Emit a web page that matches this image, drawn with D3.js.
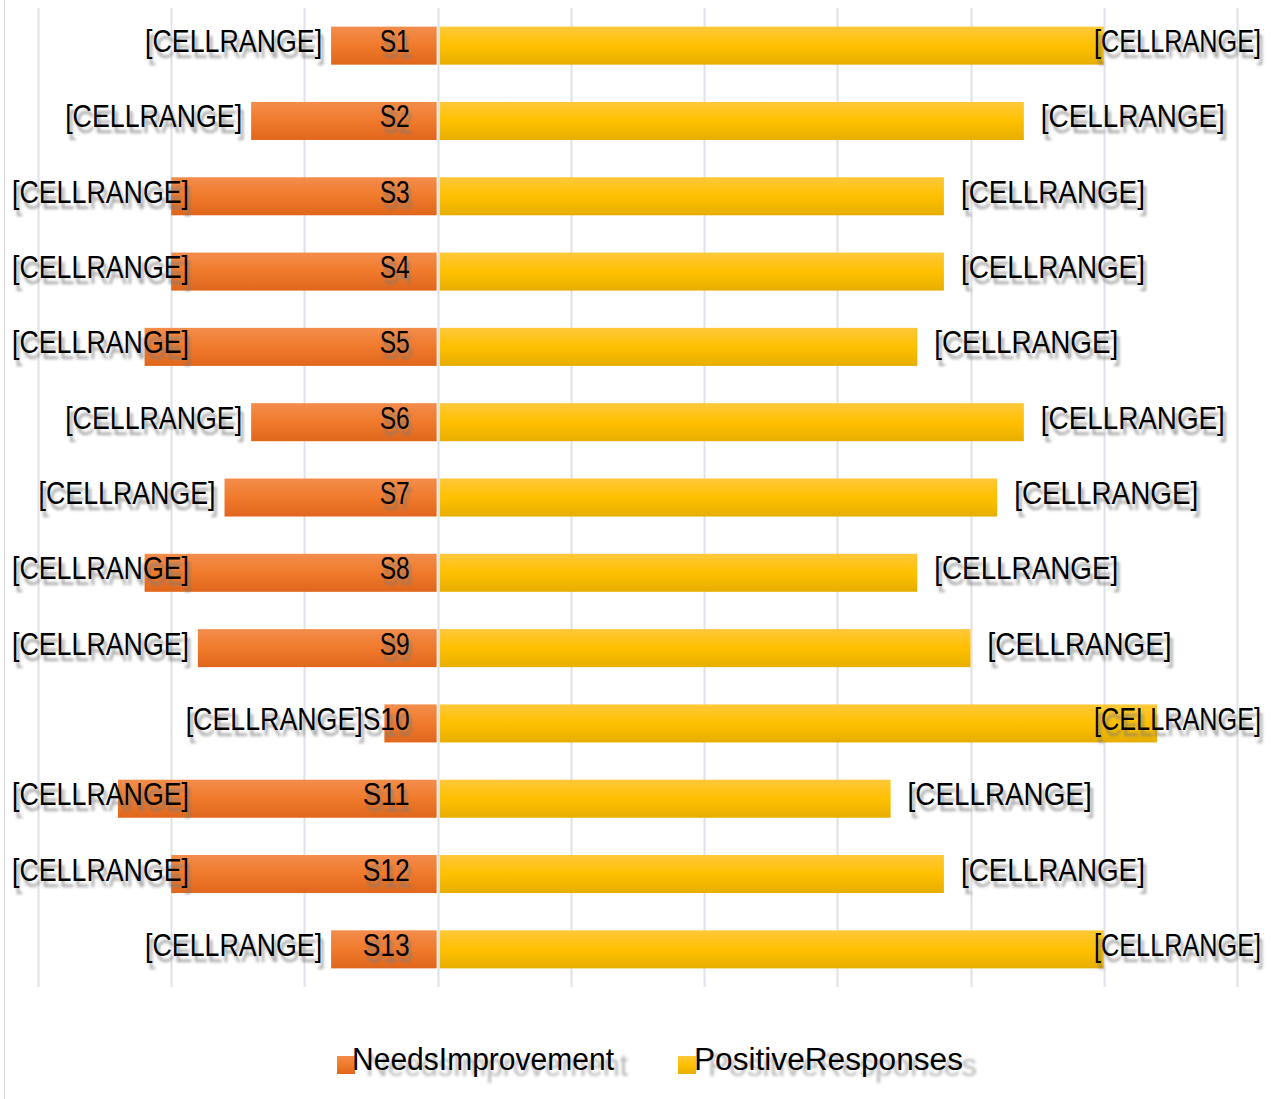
<!DOCTYPE html>
<html><head><meta charset="utf-8">
<script src="https://cdn.jsdelivr.net/npm/d3@7"></script>
<style>html,body{margin:0;padding:0;background:#fff;}svg{display:block;}</style>
</head><body>
<script>
const categories = ["S1","S2","S3","S4","S5","S6","S7","S8","S9","S10","S11","S12","S13"];
const needsImprovement = [8,14,20,20,22,14,16,22,18,4,24,20,8];
const positiveResponses = [50,44,38,38,36,44,42,36,40,54,34,38,50];
const labelText = "[CELLRANGE]";
const seriesNames = ["NeedsImprovement","PositiveResponses"];
const xTicks = [-30,-20,-10,0,10,20,30,40,50,60];

const W = 1271, H = 1099;
const FONT = "'Liberation Sans', Arial, sans-serif";
const svg = d3.select("body").append("svg").attr("width", W).attr("height", H);
const defs = svg.append("defs");
const gO = defs.append("linearGradient").attr("id","gO").attr("x1",0).attr("y1",0).attr("x2",0).attr("y2",1);
gO.append("stop").attr("offset","0%").attr("stop-color","#F38D4C");
gO.append("stop").attr("offset","50%").attr("stop-color","#F07A2C");
gO.append("stop").attr("offset","100%").attr("stop-color","#E0661C");
const gY = defs.append("linearGradient").attr("id","gY").attr("x1",0).attr("y1",0).attr("x2",0).attr("y2",1);
gY.append("stop").attr("offset","0%").attr("stop-color","#FFC83A");
gY.append("stop").attr("offset","50%").attr("stop-color","#FFC000");
gY.append("stop").attr("offset","100%").attr("stop-color","#E6AE00");
const blur = defs.append("filter").attr("id","blur").attr("x","-10%").attr("y","-30%").attr("width","120%").attr("height","160%");
blur.append("feGaussianBlur").attr("stdDeviation",1.5);

svg.append("line").attr("x1",4.5).attr("x2",4.5).attr("y1",0).attr("y2",H).attr("stroke","#d9d9d9").attr("stroke-width",1);

const x = d3.scaleLinear().domain([-30,60]).range([38,1237]);
const y = d3.scaleBand().domain(categories).range([8,987]).paddingInner(0.495).paddingOuter(0.2475);

svg.append("g").selectAll("line").data(xTicks).join("line")
  .attr("x1", d => Math.round(x(d))+0.5).attr("x2", d => Math.round(x(d))+0.5)
  .attr("y1", 8).attr("y2", 987).attr("stroke","#dde1e8").attr("stroke-width",2);

const bars = svg.append("g");
categories.forEach((c,i) => {
  bars.append("rect").attr("x", x(-needsImprovement[i])).attr("y", y(c))
    .attr("width", x(0)-1 - x(-needsImprovement[i])).attr("height", y.bandwidth()).attr("fill","url(#gO)");
  bars.append("rect").attr("x", x(0)+2).attr("y", y(c))
    .attr("width", x(positiveResponses[i]) - x(0) - 2).attr("height", y.bandwidth()).attr("fill","url(#gY)");
});

const FS = 31;
function label(g, txt, px, py, len) {
  const grp = g.append("g").attr("transform", `translate(${px},${py})`);
  [["#7a7a7a",0.7,3,6,true],["#000",1,0,0,false]].forEach(([col,op,dx,dy,sh]) => {
    const t = grp.append("text").attr("x", dx).attr("y", dy)
      .attr("font-family",FONT).attr("font-size", FS).attr("fill",col).attr("opacity",op)
      .attr("textLength", len).attr("lengthAdjust","spacingAndGlyphs").text(txt);
    if (sh) t.attr("filter","url(#blur)");
  });
  return grp;
}

const labels = svg.append("g");
const LW = 177, RW = 184, CW = 167, RIGHT_EDGE = 1261;

categories.forEach((c,i) => {
  const base = y(c) + y.bandwidth()/2 + 6.5;
  const catRight = x(0) - 28;
  const catW = c.length === 2 ? 30 : 47;
  label(labels, c, catRight - catW, base, catW);
  const right = Math.min(x(-needsImprovement[i]) - 9, catRight - catW);
  const left = Math.max(right - LW, 12);
  label(labels, labelText, left, base, LW);
  let pl = x(positiveResponses[i]) + 17, w = RW;
  if (pl + RW > RIGHT_EDGE) { w = CW; pl = RIGHT_EDGE - CW; }
  label(labels, labelText, pl, base, w);
});

const leg = svg.append("g");
const legItems = [{name: seriesNames[0], fill: "url(#gO)", sx: 337, tx: 352, len: 262},
                  {name: seriesNames[1], fill: "url(#gY)", sx: 678, tx: 694, len: 269}];
legItems.forEach(d => {
  leg.append("rect").attr("x", d.sx).attr("y", 1056).attr("width", 18).attr("height", 18).attr("fill", d.fill);
  const g = leg.append("g").attr("transform", `translate(${d.tx},1070)`);
  g.append("text").attr("x", 14).attr("y", 6).attr("font-family",FONT).attr("font-size",31)
    .attr("textLength", d.len).attr("lengthAdjust","spacingAndGlyphs")
    .attr("fill","#7a7a7a").attr("opacity",0.55).attr("filter","url(#blur)").text(d.name);
  g.append("text").attr("font-family",FONT).attr("font-size",31).attr("fill","#000")
    .attr("textLength", d.len).attr("lengthAdjust","spacingAndGlyphs").text(d.name);
});
</script>
</body></html>
